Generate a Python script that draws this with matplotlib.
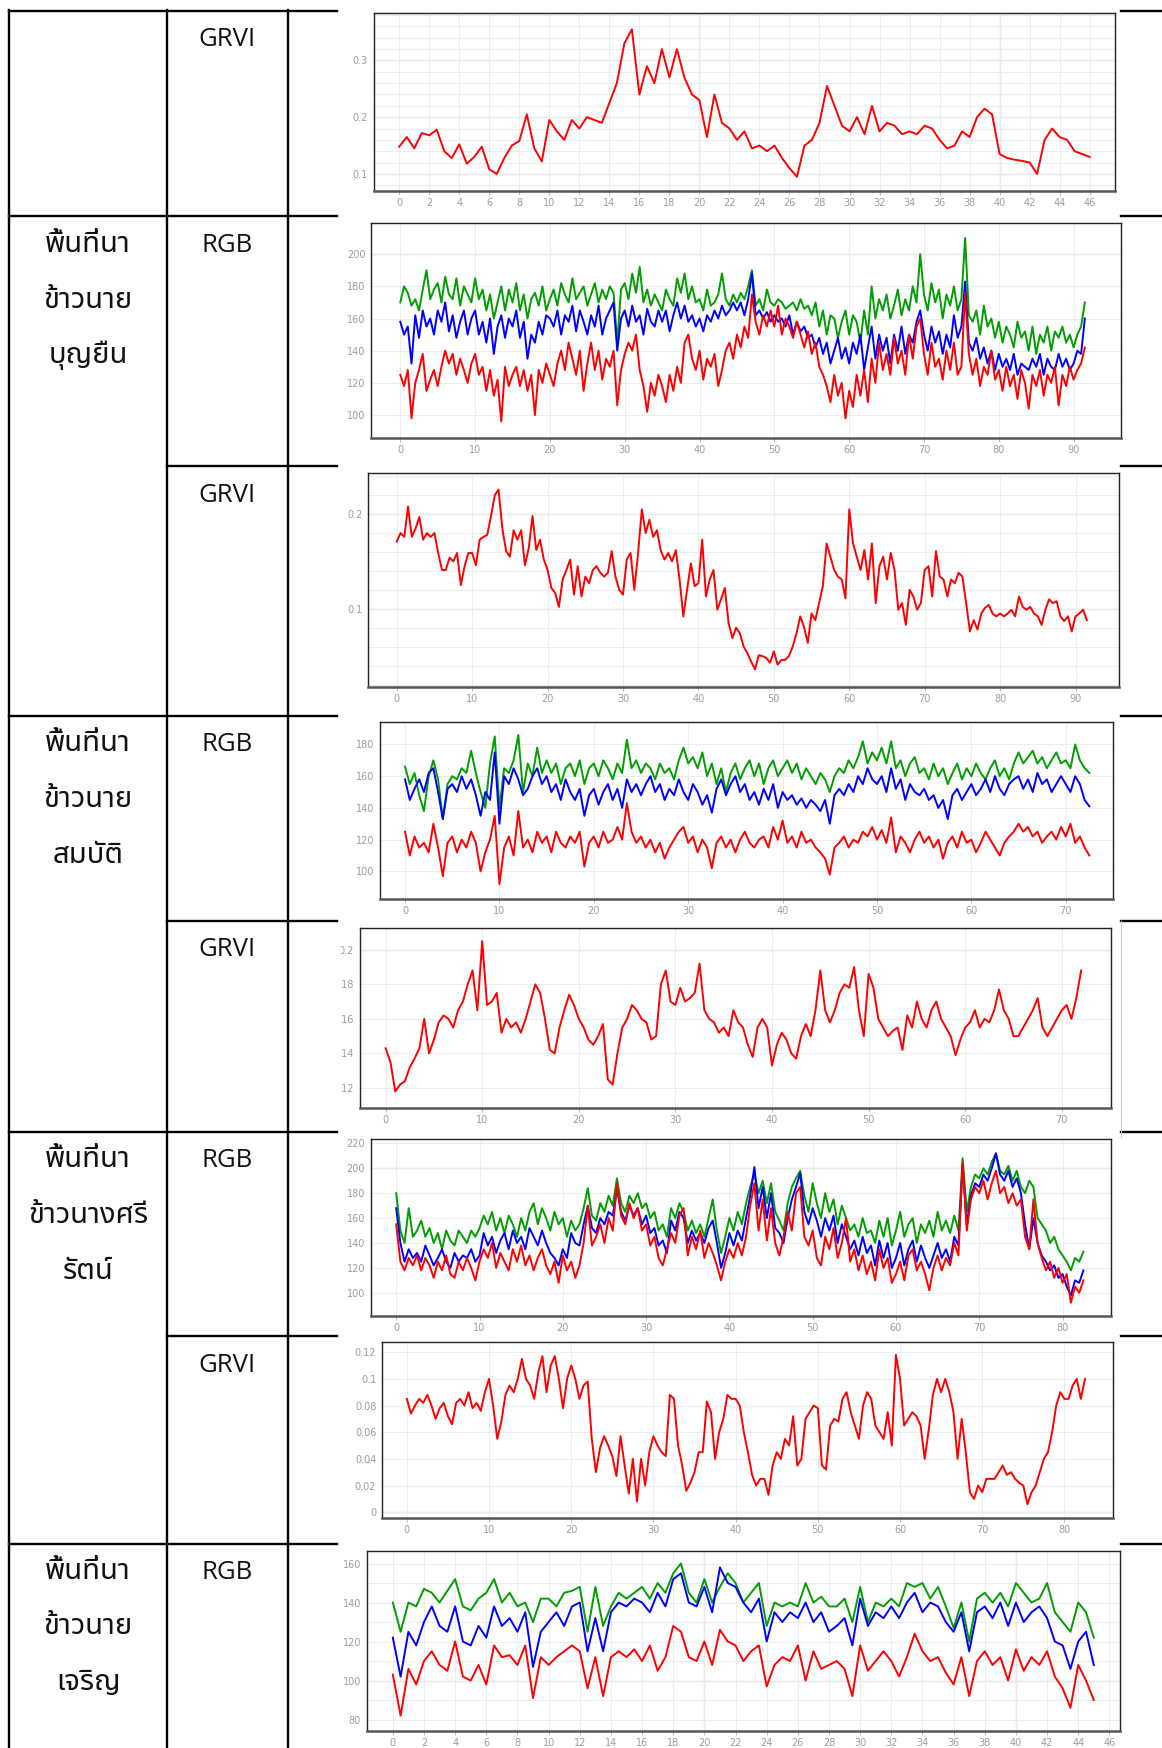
import numpy as np
import matplotlib
matplotlib.use("Agg")
import matplotlib.pyplot as plt
from matplotlib import font_manager
from matplotlib.lines import Line2D
from matplotlib.patches import Rectangle
from matplotlib.ticker import MultipleLocator, FuncFormatter

THAI_LINES = [
    ["พื้นที่นา", "ข้าวนาย", "บุญยืน"],
    ["พื้นที่นา", "ข้าวนาย", "สมบัติ"],
    ["พื้นที่นา", "ข้าวนางศรี", "รัตน์"],
    ["พื้นที่นา", "ข้าวนาย", "เจริญ"],
]
KIND_LABELS = ["GRVI", "RGB", "GRVI", "RGB", "GRVI", "RGB", "GRVI", "RGB"]
STEP = 0.5

# row 1: GRVI
GRVI1 = [0.148, 0.165, 0.145, 0.172, 0.168, 0.178, 0.140, 0.128, 0.152, 0.118,
         0.130, 0.148, 0.108, 0.100, 0.128, 0.150, 0.158, 0.205, 0.145, 0.122,
         0.195, 0.175, 0.160, 0.195, 0.180, 0.200, 0.195, 0.190, 0.225, 0.260,
         0.330, 0.355, 0.240, 0.290, 0.260, 0.320, 0.270, 0.320, 0.270, 0.240,
         0.230, 0.165, 0.240, 0.190, 0.180, 0.160, 0.175, 0.145, 0.150, 0.140,
         0.150, 0.128, 0.110, 0.095, 0.150, 0.160, 0.190, 0.255, 0.220, 0.185,
         0.175, 0.200, 0.170, 0.220, 0.175, 0.190, 0.185, 0.170, 0.175, 0.170,
         0.185, 0.180, 0.160, 0.145, 0.150, 0.175, 0.165, 0.200, 0.215, 0.205,
         0.135, 0.128, 0.125, 0.123, 0.120, 0.100, 0.160, 0.180, 0.165, 0.160,
         0.140, 0.135, 0.130]

# row 2 (บุญยืน)
RGB2_G = [170, 180, 176, 168, 172, 165, 178, 190, 172, 178,
          182, 170, 186, 175, 172, 185, 168, 180, 175, 170,
          185, 172, 178, 165, 175, 160, 170, 180, 165, 178,
          170, 182, 165, 175, 160, 172, 176, 168, 180, 165,
          172, 178, 168, 182, 175, 170, 185, 172, 176, 180,
          168, 175, 182, 170, 178, 172, 180, 176, 145, 178,
          182, 172, 188, 176, 192, 170, 178, 168, 175, 170,
          165, 178, 172, 168, 185, 176, 188, 172, 180, 170,
          172, 165, 178, 168, 170, 175, 188, 172, 168, 175,
          170, 176, 172, 180, 190, 168, 172, 165, 178, 170,
          168, 172, 170, 166, 168, 170, 165, 172, 166, 168,
          162, 170, 155, 165, 150, 162, 160, 148, 158, 165,
          150, 162, 158, 145, 165, 150, 180, 160, 172, 165,
          175, 160, 168, 178, 162, 172, 165, 180, 170, 200,
          175, 165, 182, 170, 178, 160, 175, 168, 180, 165,
          172, 210, 162, 158, 165, 150, 168, 155, 160, 148,
          158, 145, 155, 150, 142, 158, 148, 152, 140, 155,
          138, 150, 145, 155, 140, 152, 148, 155, 145, 150,
          142, 150, 155, 170]
RGB2_B = [158, 150, 155, 132, 162, 148, 165, 155, 160, 150,
          165, 158, 170, 152, 162, 148, 158, 165, 150, 160,
          165, 150, 158, 145, 160, 138, 155, 162, 148, 160,
          155, 165, 148, 158, 135, 150, 145, 158, 150, 162,
          160, 155, 165, 150, 162, 158, 168, 152, 165, 158,
          150, 162, 155, 168, 150, 160, 165, 170, 140, 160,
          165, 155, 168, 158, 162, 150, 166, 158, 155, 165,
          158, 165, 152, 162, 170, 160, 168, 158, 162, 155,
          160, 152, 162, 158, 165, 160, 168, 162, 165, 170,
          165, 170, 162, 172, 188, 162, 165, 160, 164, 158,
          162, 158, 160, 155, 162, 150, 158, 152, 155, 148,
          150, 142, 148, 138, 145, 132, 140, 148, 135, 142,
          132, 145, 138, 150, 128, 142, 155, 135, 150, 140,
          148, 132, 150, 140, 155, 138, 150, 145, 158, 165,
          150, 140, 155, 145, 152, 138, 150, 142, 162, 148,
          155, 183, 145, 140, 148, 135, 142, 132, 140, 128,
          138, 130, 135, 128, 138, 125, 132, 130, 128, 135,
          130, 138, 125, 135, 130, 128, 138, 130, 135, 128,
          132, 140, 138, 160]
RGB2_R = [125, 118, 128, 98, 120, 128, 138, 115, 122, 128,
          118, 130, 140, 132, 138, 125, 135, 128, 120, 132,
          138, 125, 130, 115, 128, 112, 122, 96, 130, 118,
          125, 130, 118, 128, 115, 125, 100, 128, 120, 132,
          125, 118, 132, 140, 128, 145, 135, 125, 140, 115,
          132, 145, 128, 140, 122, 135, 130, 140, 106, 128,
          138, 145, 140, 150, 128, 118, 102, 120, 112, 125,
          118, 108, 125, 115, 130, 120, 145, 150, 135, 128,
          140, 122, 135, 130, 138, 118, 128, 140, 145, 135,
          150, 142, 155, 148, 175, 158, 150, 162, 155, 165,
          155, 168, 150, 160, 155, 148, 158, 150, 142, 152,
          138, 145, 130, 125, 118, 108, 125, 112, 120, 98,
          115, 105, 125, 112, 128, 108, 135, 120, 145, 128,
          138, 125, 148, 132, 140, 125, 150, 135, 155, 160,
          138, 125, 145, 130, 135, 122, 140, 128, 145, 125,
          130, 176, 138, 125, 135, 118, 130, 125, 140, 122,
          128, 115, 130, 118, 125, 110, 128, 120, 104, 125,
          118, 128, 112, 125, 120, 130, 106, 125, 118, 130,
          122, 128, 132, 142]
GRVI2 = [0.171, 0.180, 0.176, 0.208, 0.176, 0.185, 0.197, 0.173, 0.180, 0.176,
         0.180, 0.159, 0.141, 0.141, 0.154, 0.150, 0.159, 0.125, 0.145, 0.159,
         0.159, 0.146, 0.173, 0.176, 0.178, 0.198, 0.220, 0.226, 0.185, 0.161,
         0.155, 0.183, 0.173, 0.183, 0.146, 0.164, 0.198, 0.162, 0.173, 0.152,
         0.141, 0.122, 0.117, 0.102, 0.131, 0.141, 0.152, 0.115, 0.145, 0.113,
         0.134, 0.127, 0.141, 0.145, 0.138, 0.134, 0.138, 0.161, 0.134, 0.120,
         0.115, 0.152, 0.159, 0.120, 0.159, 0.205, 0.180, 0.194, 0.176, 0.183,
         0.162, 0.152, 0.159, 0.150, 0.162, 0.131, 0.092, 0.120, 0.148, 0.124,
         0.127, 0.173, 0.113, 0.131, 0.141, 0.099, 0.110, 0.122, 0.085, 0.069,
         0.080, 0.074, 0.060, 0.053, 0.044, 0.036, 0.051, 0.050, 0.048, 0.043,
         0.055, 0.041, 0.046, 0.046, 0.050, 0.060, 0.074, 0.092, 0.081, 0.064,
         0.095, 0.088, 0.106, 0.124, 0.169, 0.155, 0.141, 0.134, 0.131, 0.111,
         0.205, 0.169, 0.155, 0.141, 0.162, 0.131, 0.169, 0.106, 0.145, 0.155,
         0.131, 0.159, 0.141, 0.099, 0.106, 0.083, 0.120, 0.113, 0.099, 0.106,
         0.141, 0.145, 0.113, 0.161, 0.134, 0.131, 0.113, 0.131, 0.127, 0.138,
         0.134, 0.106, 0.076, 0.088, 0.078, 0.095, 0.101, 0.104, 0.095, 0.092,
         0.095, 0.092, 0.095, 0.099, 0.092, 0.113, 0.102, 0.099, 0.102, 0.095,
         0.092, 0.083, 0.099, 0.110, 0.106, 0.108, 0.092, 0.087, 0.092, 0.076,
         0.092, 0.095, 0.099, 0.088]

# row 3 (สมบัติ)
RGB3_G = [166, 155, 162, 148, 138, 160, 170, 158, 133, 155,
          160, 158, 165, 162, 176, 162, 150, 140, 168, 185,
          140, 165, 162, 170, 186, 150, 168, 160, 178, 162,
          170, 162, 168, 155, 165, 168, 160, 170, 155, 165,
          168, 160, 170, 165, 158, 168, 162, 183, 165, 170,
          162, 168, 165, 158, 168, 162, 165, 158, 170, 178,
          168, 172, 165, 175, 160, 168, 155, 165, 150, 162,
          168, 158, 165, 170, 160, 168, 155, 165, 170, 160,
          165, 170, 162, 168, 158, 165, 160, 155, 162, 158,
          150, 160, 165, 162, 170, 165, 172, 182, 168, 175,
          170, 178, 168, 182, 165, 170, 160, 168, 172, 162,
          165, 158, 168, 160, 165, 155, 162, 168, 158, 165,
          160, 168, 162, 158, 165, 170, 160, 165, 158, 168,
          175, 168, 172, 176, 168, 172, 165, 170, 175, 168,
          170, 165, 180, 170, 165, 162]
RGB3_B = [158, 145, 152, 158, 150, 162, 165, 150, 133, 152,
          155, 150, 160, 152, 158, 148, 135, 150, 145, 175,
          130, 160, 155, 165, 158, 148, 152, 160, 165, 155,
          160, 150, 155, 145, 158, 150, 145, 152, 135, 148,
          152, 142, 150, 155, 145, 152, 140, 158, 150, 155,
          148, 155, 160, 150, 155, 145, 152, 148, 158, 150,
          145, 155, 150, 142, 148, 137, 152, 158, 148, 155,
          160, 150, 155, 145, 150, 142, 152, 145, 155, 140,
          150, 145, 148, 142, 146, 140, 145, 142, 138, 145,
          130, 148, 152, 148, 155, 150, 160, 155, 165, 158,
          155, 160, 150, 165, 152, 158, 145, 155, 150, 148,
          152, 145, 148, 140, 145, 133, 148, 152, 145, 150,
          155, 148, 152, 158, 150, 160, 152, 148, 155, 158,
          160, 152, 158, 150, 162, 155, 158, 150, 155, 160,
          155, 150, 160, 155, 145, 141]
RGB3_R = [125, 110, 122, 115, 118, 112, 130, 115, 97, 118,
          122, 112, 120, 115, 125, 118, 100, 112, 120, 135,
          92, 115, 122, 110, 138, 115, 120, 112, 125, 118,
          122, 112, 125, 118, 115, 122, 118, 125, 103, 118,
          122, 115, 125, 118, 120, 128, 120, 143, 125, 118,
          122, 115, 120, 112, 118, 108, 115, 120, 125, 128,
          118, 122, 112, 120, 115, 102, 118, 122, 115, 120,
          112, 120, 125, 118, 115, 120, 122, 115, 128, 120,
          132, 118, 122, 115, 125, 118, 120, 115, 112, 108,
          98, 115, 118, 122, 115, 120, 118, 125, 122, 128,
          120, 126, 118, 134, 112, 122, 118, 112, 120, 125,
          118, 122, 115, 120, 108, 118, 122, 115, 125, 118,
          120, 112, 118, 125, 120, 115, 110, 118, 122, 125,
          130, 125, 128, 122, 125, 118, 122, 125, 120, 128,
          122, 130, 118, 122, 115, 110]
GRVI3 = [0.143, 0.135, 0.118, 0.122, 0.124, 0.132, 0.137, 0.143, 0.160, 0.140,
         0.148, 0.158, 0.162, 0.160, 0.155, 0.165, 0.170, 0.180, 0.188, 0.165,
         0.205, 0.168, 0.170, 0.175, 0.152, 0.160, 0.155, 0.158, 0.152, 0.160,
         0.170, 0.180, 0.175, 0.160, 0.142, 0.140, 0.155, 0.165, 0.174, 0.168,
         0.160, 0.155, 0.148, 0.145, 0.150, 0.157, 0.125, 0.122, 0.140, 0.155,
         0.160, 0.168, 0.165, 0.160, 0.158, 0.148, 0.150, 0.180, 0.188, 0.170,
         0.168, 0.178, 0.170, 0.172, 0.175, 0.192, 0.165, 0.160, 0.158, 0.152,
         0.155, 0.150, 0.165, 0.158, 0.155, 0.145, 0.138, 0.155, 0.160, 0.155,
         0.133, 0.145, 0.152, 0.148, 0.140, 0.137, 0.150, 0.157, 0.150, 0.165,
         0.188, 0.165, 0.158, 0.165, 0.175, 0.180, 0.178, 0.190, 0.165, 0.150,
         0.186, 0.178, 0.160, 0.155, 0.150, 0.153, 0.155, 0.142, 0.162, 0.155,
         0.170, 0.160, 0.155, 0.165, 0.170, 0.160, 0.155, 0.150, 0.139, 0.148,
         0.155, 0.158, 0.165, 0.155, 0.160, 0.158, 0.165, 0.177, 0.165, 0.160,
         0.150, 0.150, 0.155, 0.160, 0.165, 0.172, 0.155, 0.150, 0.155, 0.160,
         0.165, 0.168, 0.160, 0.172, 0.188]

# row 4 (ศรีรัตน์)
RGB4_G = [180, 150, 140, 168, 145, 150, 158, 145, 152, 140,
          148, 135, 150, 142, 138, 150, 145, 140, 150, 145,
          152, 162, 155, 165, 150, 160, 148, 162, 155, 145,
          160, 150, 165, 172, 155, 168, 160, 150, 165, 155,
          160, 145, 158, 150, 155, 168, 184, 162, 158, 172,
          165, 178, 170, 192, 172, 165, 178, 172, 180, 168,
          172, 160, 165, 150, 155, 145, 168, 160, 172, 165,
          150, 158, 148, 155, 145, 160, 175, 150, 132, 145,
          160, 150, 165, 155, 172, 185, 196, 180, 190, 172,
          188, 165, 158, 150, 172, 185, 192, 198, 178, 165,
          188, 172, 160, 180, 165, 175, 155, 170, 160, 150,
          155, 145, 160, 148, 150, 140, 158, 145, 160, 138,
          150, 165, 145, 155, 160, 140, 155, 148, 158, 145,
          165, 150, 158, 148, 162, 150, 208, 165, 185, 195,
          192, 200, 195, 205, 212, 198, 195, 202, 190, 198,
          185, 180, 190, 185, 160, 155, 150, 140, 145, 135,
          130, 125, 118, 128, 125, 133]
RGB4_B = [168, 140, 125, 135, 128, 132, 125, 138, 130, 122,
          128, 135, 125, 120, 132, 125, 130, 128, 135, 125,
          130, 148, 138, 145, 132, 142, 148, 135, 150, 140,
          145, 135, 152, 145, 138, 150, 140, 132, 128, 122,
          135, 128, 148, 140, 138, 155, 170, 152, 148, 160,
          155, 165, 162, 183, 165, 158, 170, 162, 168, 155,
          162, 148, 152, 138, 142, 132, 158, 150, 165, 160,
          140, 150, 142, 148, 140, 152, 158, 140, 120, 132,
          148, 138, 150, 142, 160, 178, 201, 168, 185, 160,
          180, 152, 148, 140, 160, 175, 185, 196, 165, 155,
          168, 158, 145, 160, 150, 162, 140, 155, 145, 135,
          142, 130, 145, 132, 138, 122, 142, 128, 140, 120,
          128, 140, 122, 135, 142, 125, 138, 128, 120, 130,
          140, 128, 135, 125, 145, 138, 202, 155, 178, 188,
          185, 195, 190, 200, 212, 195, 190, 198, 185, 192,
          180, 155, 135, 160, 140, 130, 125, 118, 122, 112,
          115, 105, 98, 110, 108, 118]
RGB4_R = [155, 125, 118, 128, 122, 130, 118, 128, 122, 112,
          125, 118, 130, 115, 112, 125, 118, 128, 120, 110,
          125, 135, 128, 140, 120, 132, 125, 118, 135, 125,
          138, 122, 130, 118, 128, 135, 122, 115, 125, 108,
          130, 118, 125, 112, 122, 140, 170, 138, 145, 155,
          140, 160, 150, 188, 162, 155, 172, 160, 168, 150,
          155, 138, 145, 128, 122, 135, 148, 140, 162, 168,
          130, 145, 135, 150, 128, 140, 132, 122, 110, 125,
          135, 128, 140, 130, 145, 170, 188, 150, 175, 142,
          168, 140, 130, 145, 165, 150, 180, 185, 145, 138,
          150, 128, 122, 145, 135, 152, 128, 140, 160, 125,
          135, 118, 130, 115, 125, 110, 135, 120, 128, 108,
          115, 125, 110, 130, 135, 118, 125, 115, 102, 120,
          130, 118, 128, 122, 140, 130, 205, 150, 175, 185,
          180, 190, 175, 188, 198, 180, 185, 172, 180, 170,
          175, 145, 135, 175, 140, 128, 118, 125, 112, 120,
          108, 115, 92, 105, 100, 110]
GRVI4 = [0.085, 0.074, 0.080, 0.085, 0.082, 0.088, 0.080, 0.070, 0.078, 0.082,
         0.072, 0.066, 0.082, 0.085, 0.080, 0.090, 0.078, 0.082, 0.076, 0.090,
         0.100, 0.080, 0.055, 0.068, 0.088, 0.095, 0.090, 0.100, 0.115, 0.100,
         0.095, 0.085, 0.105, 0.117, 0.090, 0.110, 0.117, 0.100, 0.078, 0.100,
         0.110, 0.100, 0.085, 0.095, 0.098, 0.055, 0.030, 0.048, 0.057, 0.050,
         0.042, 0.027, 0.057, 0.035, 0.014, 0.040, 0.008, 0.040, 0.020, 0.045,
         0.057, 0.050, 0.045, 0.042, 0.088, 0.085, 0.050, 0.035, 0.016, 0.022,
         0.030, 0.045, 0.045, 0.083, 0.075, 0.040, 0.060, 0.070, 0.088, 0.085,
         0.085, 0.080, 0.060, 0.045, 0.028, 0.020, 0.025, 0.025, 0.013, 0.035,
         0.045, 0.040, 0.055, 0.050, 0.072, 0.035, 0.040, 0.070, 0.075, 0.080,
         0.078, 0.035, 0.032, 0.065, 0.070, 0.068, 0.085, 0.090, 0.075, 0.065,
         0.055, 0.080, 0.090, 0.085, 0.065, 0.060, 0.055, 0.075, 0.050, 0.118,
         0.100, 0.065, 0.070, 0.075, 0.072, 0.065, 0.040, 0.062, 0.088, 0.100,
         0.090, 0.100, 0.090, 0.075, 0.040, 0.070, 0.045, 0.015, 0.010, 0.020,
         0.015, 0.025, 0.025, 0.025, 0.030, 0.035, 0.028, 0.030, 0.025, 0.022,
         0.020, 0.006, 0.015, 0.020, 0.030, 0.040, 0.045, 0.060, 0.080, 0.090,
         0.085, 0.085, 0.095, 0.100, 0.085, 0.100]

# row 5 (เจริญ)
RGB5_G = [140, 125, 140, 138, 147, 145, 140, 146, 152, 138,
          136, 142, 145, 152, 140, 145, 138, 140, 130, 142,
          142, 138, 145, 146, 148, 125, 148, 128, 138, 145,
          142, 145, 148, 142, 150, 145, 155, 160, 145, 140,
          152, 140, 148, 155, 150, 140, 145, 150, 128, 140,
          138, 140, 138, 150, 140, 143, 138, 138, 142, 130,
          148, 130, 140, 138, 142, 138, 150, 148, 150, 142,
          148, 138, 127, 140, 120, 142, 145, 140, 145, 138,
          150, 145, 140, 142, 150, 135, 130, 125, 140, 135,
          122]
RGB5_B = [122, 102, 125, 118, 130, 138, 128, 125, 138, 120,
          118, 128, 122, 138, 128, 132, 125, 135, 107, 125,
          130, 135, 128, 138, 140, 115, 132, 115, 135, 140,
          138, 142, 140, 135, 145, 138, 152, 155, 140, 138,
          148, 135, 158, 150, 148, 140, 135, 142, 120, 135,
          130, 135, 132, 140, 130, 135, 125, 128, 132, 118,
          142, 128, 135, 132, 138, 132, 140, 145, 135, 140,
          138, 130, 125, 135, 115, 135, 138, 132, 140, 128,
          140, 130, 135, 138, 132, 120, 118, 106, 120, 125,
          108]
RGB5_R = [103, 82, 106, 98, 110, 115, 108, 105, 120, 102,
          100, 108, 98, 118, 112, 113, 108, 118, 91, 112,
          108, 112, 115, 118, 115, 96, 112, 92, 112, 115,
          112, 116, 110, 118, 105, 112, 128, 125, 112, 110,
          120, 108, 126, 120, 118, 110, 115, 118, 97, 108,
          112, 110, 118, 100, 115, 106, 108, 110, 106, 92,
          118, 105, 110, 115, 110, 102, 112, 124, 115, 110,
          112, 104, 98, 112, 92, 110, 115, 108, 112, 100,
          116, 105, 112, 108, 115, 102, 96, 86, 108, 100,
          90]

RED, GREEN, BLUE = "#ff0000", "#009e00", "#0000ff"

# ---------------- layout (reference pixel units, 1042 x 1568) ----------------
W, H = 1042.0, 1568.0


def fx(x):
    return x / W


def fy(y):
    return 1 - y / H


def box(x0, y0, x1, y1):
    return [x0 / W, 1 - y1 / H, (x1 - x0) / W, (y1 - y0) / H]


def pick_thai_font():
    names = {f.name for f in font_manager.fontManager.ttflist}
    for cand in ["Noto Sans Thai", "Noto Sans Thai Looped", "Loma", "Garuda",
                 "Sarabun", "Norasi", "Kinnari", "Tlwg Typo"]:
        if cand in names:
            return cand
    try:
        from fontTools.ttLib import TTFont
        for f in font_manager.fontManager.ttflist:
            try:
                cmap = TTFont(f.fname, fontNumber=0, lazy=True).getBestCmap()
            except Exception:
                continue
            if cmap and 0x0E1E in cmap:
                return f.name
    except ImportError:
        pass
    return "DejaVu Sans"


THAI = pick_thai_font()

fig = plt.figure(figsize=(11.62, 17.48), dpi=100)
fig.patch.set_facecolor("white")

# table rules (the pasted chart pictures cover them between x=302 and x=1005)
LW = 1.7
img_x0, img_x1 = 302, 1005
for y in [10, 194, 642, 1015, 1385]:
    fig.add_artist(Line2D([fx(8), fx(img_x0)], [fy(y)] * 2, color="black", lw=LW))
    fig.add_artist(Line2D([fx(img_x1), fx(1042)], [fy(y)] * 2, color="black", lw=LW))
for y in [418, 826, 1198]:
    fig.add_artist(Line2D([fx(150), fx(img_x0)], [fy(y)] * 2, color="black", lw=LW))
    fig.add_artist(Line2D([fx(img_x1), fx(1042)], [fy(y)] * 2, color="black", lw=LW))
for x in [8, 150, 258]:
    fig.add_artist(Line2D([fx(x)] * 2, [fy(9), fy(1568)], color="black", lw=LW))
# thin edge of one pasted picture
fig.add_artist(Line2D([fx(1005)] * 2, [fy(826), fy(1020)], color="#c8c8c8", lw=0.8))

# text in the first two columns
latin = ["Open Sans", "DejaVu Sans"]
kind_y = [41, 226, 450, 674, 858, 1047, 1231, 1416]
for label, y in zip(KIND_LABELS, kind_y):
    fig.text(fx(204), fy(y), label, ha="center", va="baseline",
             family=latin, fontsize=18.5, color="#111111")
for lines, y0 in zip(THAI_LINES, [226, 674, 1047, 1416]):
    for i, line in enumerate(lines):
        fig.text(fx(79), fy(y0 + 50 * i), line, ha="center", va="baseline",
                 family=[THAI, "DejaVu Sans"], fontsize=21, color="#111111")


def fmt(v, pos):
    return f"{round(v, 4):g}"


def panel(frame, xlim, ylim, xtick, ytick, vgrid, hgrid, dark_h, dark_v, series):
    ax = fig.add_axes(box(*frame))
    ax.set_xlim(xlim)
    ax.set_ylim(ylim)
    ax.xaxis.set_major_locator(MultipleLocator(xtick))
    ax.yaxis.set_major_locator(MultipleLocator(ytick))
    ax.xaxis.set_minor_locator(MultipleLocator(vgrid))
    ax.yaxis.set_minor_locator(MultipleLocator(hgrid))
    ax.yaxis.set_major_formatter(FuncFormatter(fmt))
    ax.grid(which="both", color="#ececec", lw=0.7)
    for v in dark_h:
        ax.axhline(v, color="#c6c6c6", lw=0.9, zorder=1)
    for v in dark_v:
        ax.axvline(v, color="#c6c6c6", lw=0.9, zorder=1)
    ax.tick_params(which="minor", length=0)
    ax.tick_params(axis="x", which="major", length=3, width=0.6, color="#b0b0b0",
                   labelcolor="#9c9c9c", labelsize=7, pad=2)
    ax.tick_params(axis="y", which="major", length=0, labelcolor="#9c9c9c",
                   labelsize=7, pad=4)
    for side in ["top", "right", "left"]:
        ax.spines[side].set_color("#222222")
        ax.spines[side].set_linewidth(1.0)
    ax.spines["bottom"].set_color("#555555")
    ax.spines["bottom"].set_linewidth(1.8)
    for y, c in series:
        ax.plot(np.arange(len(y)) * STEP, y, color=c, lw=1.4, zorder=3)
    return ax


panel((335, 12, 1000, 171), (-1.71, 47.7), (0.0705, 0.383), 2, 0.1, 2, 0.02,
      [0.1, 0.2, 0.3], [20, 40], [(GRVI1, RED)])
panel((333, 200, 1005, 392.5), (-3.87, 96.3), (86, 219.4), 10, 20, 10, 20,
      [200], [], [(RGB2_G, GREEN), (RGB2_B, BLUE), (RGB2_R, RED)])
panel((330, 424, 1003, 616.4), (-3.81, 95.7), (0.0172, 0.2438), 10, 0.1, 10, 0.02,
      [0.1, 0.2], [], [(GRVI2, RED)])
panel((340.8, 648, 998, 806.4), (-2.65, 75.0), (82.6, 193.9), 10, 20, 10, 20,
      [], [], [(RGB3_G, GREEN), (RGB3_B, BLUE), (RGB3_R, RED)])
panel((322.4, 832.4, 996, 993.8), (-2.70, 75.06), (0.1085, 0.2126), 10, 0.02, 10, 0.02,
      [0.2], [], [(GRVI3, RED)])
panel((332.3, 1021.4, 996.6, 1180.8), (-3.08, 85.86), (81.1, 223.8), 10, 20, 10, 20,
      [200], [], [(RGB4_G, GREEN), (RGB4_B, BLUE), (RGB4_R, RED)])
panel((342.4, 1204, 998, 1361.5), (-3.04, 85.9), (-0.0042, 0.1275), 10, 0.02, 10, 0.02,
      [0], [], [(GRVI4, RED)])
panel((328.8, 1391.5, 1004.6, 1552.8), (-1.68, 46.7), (74.1, 166.3), 2, 20, 2, 10,
      [100], [20, 40], [(RGB5_G, GREEN), (RGB5_B, BLUE), (RGB5_R, RED)])

# the pasted GRVI picture of row 3 cuts its own axis labels on the left
fig.add_artist(Rectangle((fx(260), fy(1012)), fx(306) - fx(260), fy(829) - fy(1012),
                         transform=fig.transFigure, facecolor="white",
                         edgecolor="none", zorder=5))

fig.savefig("out.png", dpi=100, facecolor="white")
